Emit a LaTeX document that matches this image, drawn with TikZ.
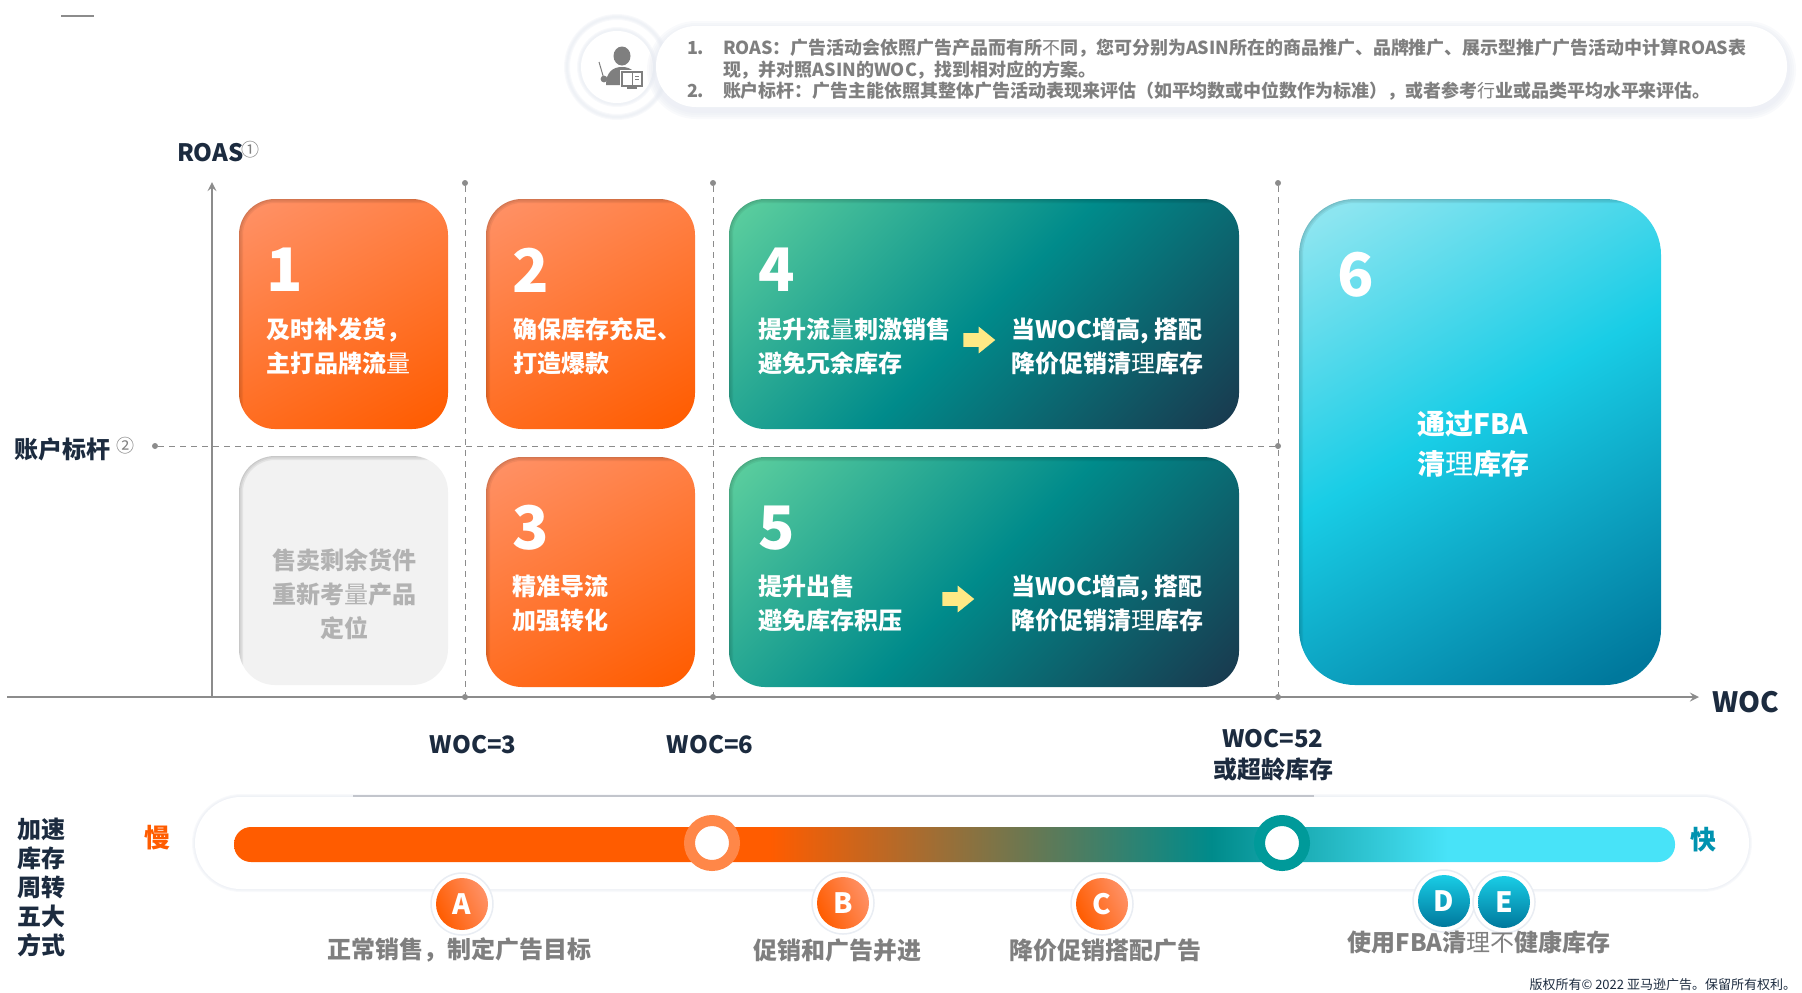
\documentclass[tikz,border=0pt]{standalone}
\usepackage{fontspec}
\setmainfont{Noto Sans CJK SC}
\usetikzlibrary{shapes.arrows}
\definecolor{navy}{HTML}{1C2B3F}
\definecolor{axisgray}{HTML}{8C8C8C}
\definecolor{txtgray}{HTML}{7F7F7F}
\definecolor{orlight}{HTML}{FF9166}
\definecolor{ordeep}{HTML}{FF5C00}
\definecolor{tealgreen}{HTML}{66D6A0}
\definecolor{tealmid}{HTML}{008B8B}
\definecolor{tealdark}{HTML}{1C3148}
\definecolor{cyanlight}{HTML}{8CE5F0}
\definecolor{cyanmid}{HTML}{19CDE6}
\definecolor{cyandark}{HTML}{00789C}
\definecolor{barcyan}{HTML}{48E3F8}
\definecolor{halo}{HTML}{E4E8F0}
\definecolor{ringorange}{HTML}{FF8748}
\definecolor{ringteal}{HTML}{009A9A}
\definecolor{arrowyellow}{HTML}{FFE985}
\pgfdeclarehorizontalshading{speedbar}{100bp}{color(0bp)=(ordeep); color(43.6bp)=(ordeep); color(58.9bp)=(tealmid); color(67.1bp)=(barcyan); color(100bp)=(barcyan)}
\pgfdeclareverticalshading{orangewash}{100bp}{color(0bp)=(ordeep); color(18bp)=(ordeep); color(82bp)=(orlight); color(100bp)=(orlight)}
\pgfdeclareverticalshading{tealwash}{100bp}{color(0bp)=(tealdark); color(12bp)=(tealdark); color(50bp)=(tealmid); color(88bp)=(tealgreen); color(100bp)=(tealgreen)}
\pgfdeclareverticalshading{cyanwash}{100bp}{color(0bp)=(cyandark); color(19bp)=(cyandark); color(53bp)=(cyanmid); color(81bp)=(cyanlight); color(100bp)=(cyanlight)}
\newcommand{\lightch}[1]{{\mdseries #1}}

\begin{document}
\begin{tikzpicture}[x=0.5pt, y=-0.5pt, every node/.style={inner sep=0pt, outer sep=0pt},
     box size/.style 2 args={minimum width=#1*0.5pt, minimum height=#2*0.5pt},
     txt/.style={font=\bfseries\fontsize{12}{17}\selectfont, align=left},
     notetxt/.style={txt, text=txtgray, font=\bfseries\fontsize{8.98}{11}\selectfont},
     cardtxt/.style={txt, text=white, anchor=west},
     bignum/.style={font=\bfseries\fontsize{30}{30}\selectfont, text=white, anchor=west},
     axlabel/.style={txt, text=navy, align=center},
     botlabel/.style={txt, text=txtgray, align=center},
     smallnum/.style={txt, text=txtgray, anchor=west, font=\mdseries\fontsize{9}{9}\selectfont},
     inset/.style={path picture={\foreach \w in {1,2.5,4} \draw[black, opacity=.06, line width=\w pt, rounded corners=#1] (path picture bounding box.south west) |- (path picture bounding box.north east);}},
     card/.style={rectangle, anchor=north west, rounded corners=18pt},
     orangecard/.style={card, box size={209}{230}, shading=orangewash, shading angle=28, inset=18pt},
     tealcard/.style={card, box size={510}{230}, shading=tealwash, shading angle=45, inset=18pt},
     dot/.style={circle, fill=axisgray, minimum size=3pt},
     axisline/.style={axisgray, line width=1pt, -stealth},
     guide/.style={axisgray, line width=0.5pt, dash pattern=on 3pt off 2.5pt},
     badge/.style={circle, minimum size=26pt, text=white, font=\bfseries\fontsize{14}{14}\selectfont},
     badgehalo/.style={circle, fill=white, draw=halo!80, line width=0.75pt, minimum size=31pt},
     ring/.style={circle, fill=white, minimum size=22.5pt, line width=5.5pt},
     yellowarrow/.style={single arrow, fill=arrowyellow, single arrow head extend=3.25pt, single arrow tip angle=78, inner ysep=3.25pt, inner xsep=0pt, minimum height=16pt}]

   \useasboundingbox (0,0) rectangle (1802,992);
   \draw[axisgray, line width=1pt] (61,16) -- (94,16);

   \foreach \w in {3,2,1} \draw[halo, opacity=.25, line width=\w pt] (617,67) circle (50) (617,67) circle (37);
   \node[circle, fill=white, minimum size=36pt] (iconinner) at (617,67) {};
   \foreach \w in {18,14,10,6} \draw[halo, opacity=.22, line width=\w*0.5pt, rounded corners=20pt] (656,30) rectangle (1787,110);
   \node[card, fill=white, rounded corners=20pt, box size={1131}{81}] (notebox) at (656,26) {};
   \fill[txtgray] (622,56) ellipse (8.5 and 9.5);
   \fill[txtgray] (606,85) .. controls (606,72) and (613,67) .. (622,67) .. controls (631,67) and (638,72) .. (638,85) -- cycle;
   \draw[txtgray, line width=0.5pt] (599,62) -- (604,79);
   \fill[txtgray] (604,79) circle (3.4);
   \fill[white] (620,70) rectangle (644,88);
   \draw[txtgray, line width=0.75pt] (622,72) rectangle (642,86);
   \draw[txtgray, line width=0.5pt] (632,72) -- (632,86);
   \draw[txtgray, line width=1pt] (627,88) -- (637,88);
   \draw[txtgray, line width=0.5pt] (635,76) -- (639,76) (635,79) -- (639,79);

   \node[notetxt, anchor=west] (numone) at (687,48) {1.};
   \node[notetxt, anchor=north west] (noteone) at (723,39) {ROAS：广告活动会依照广告产品而有所\lightch{不}同，您可分别为ASIN所在的商品推广、品牌推广、展示型推广广告活动中计算ROAS表\\现，并对照ASIN的WOC，找到相对应的方案。};
   \node[notetxt, anchor=west] (numtwo) at (687,91) {2.};
   \node[notetxt, anchor=west] (notetwo) at (723,91) {账户标杆：广告主能依照其整体广告活动表现来评估（如平均数或中位数作为标准），或者参考\lightch{行}业或品类平均水平来评估。};

   \node[dot] (leftdot) at (155,446) {};
   \node[dot] (rightdot) at (1278,446) {};
   \node[dot] (woctop) at (465,183) {};
   \node[dot] (wocbot) at (465,697) {};
   \node[dot] (sixtop) at (713,183) {};
   \node[dot] (sixbot) at (713,697) {};
   \node[dot] (bigtop) at (1278,183) {};
   \node[dot] (bigbot) at (1278,697) {};
   \draw[guide] (leftdot) -- (rightdot);
   \draw[guide] (woctop) -- (wocbot);
   \draw[guide] (sixtop) -- (sixbot);
   \draw[guide] (bigtop) -- (bigbot);
   \coordinate (xstart) at (7,697);
   \coordinate (xend) at (1699,697);
   \coordinate (ystart) at (212,697);
   \coordinate (yend) at (212,182);
   \draw[axisline] (xstart) -- (xend);
   \draw[axisline] (ystart) -- (yend);

   \node[orangecard] (cardone) at (239,199) {};
   \node[orangecard] (cardtwo) at (486,199) {};
   \node[orangecard] (cardthree) at (486,457) {};
   \node[card, box size={209}{229}, fill=black!5, inset=18pt] (cardgrey) at (239,456) {};
   \node[tealcard] (cardfour) at (729,199) {};
   \node[tealcard] (cardfive) at (729,457) {};
   \node[card, rounded corners=28pt, box size={362}{486}, shading=cyanwash, shading angle=30, inset=28pt] (cardsix) at (1299,199) {};

   \node[bignum] (numa) at (266,270) {1};
   \node[bignum] (numb) at (512,270) {2};
   \node[bignum] (numc) at (512,528) {3};
   \node[bignum] (numd) at (758,270) {4};
   \node[bignum] (nume) at (758,528) {5};
   \node[bignum] (numf) at (1337,275) {6};

   \node[cardtxt] (txtone) at (266,346) {及时补发货，\\主打品牌流\lightch{量}};
   \node[cardtxt] (txttwo) at (513,346) {确保库存充足、\\打造爆款};
   \node[cardtxt] (txtthree) at (512,603) {精准导流\\加强转化};
   \node[txt, text=black!30, align=center] (txtgrey) at (344,594) {售卖剩余货件\\重新考\lightch{量}产品\\定位};
   \node[cardtxt] (txtfour) at (758,346) {提升流\lightch{量}刺激销售\\避免冗余库存};
   \node[cardtxt] (txtfourb) at (1011,346) {当WOC增高, 搭配\\降价促销清\lightch{理}库存};
   \node[cardtxt] (txtfive) at (758,603) {提升出售\\避免库存积压};
   \node[cardtxt] (txtfiveb) at (1011,603) {当WOC增高, 搭配\\降价促销清\lightch{理}库存};
   \node[txt, text=white, align=center, font=\bfseries\fontsize{14}{20}\selectfont] (txtsix) at (1473,444) {通过FBA\\清\lightch{理}库存};
   \node[yellowarrow] (arrowfour) at (975,340) {};
   \node[yellowarrow] (arrowfive) at (954,599) {};

   \node[axlabel, anchor=west] (roas) at (177,153) {ROAS};
   \node[smallnum] (roasnum) at (241,150) {①};
   \node[axlabel, anchor=west] (account) at (14,449) {账户标杆};
   \node[smallnum] (accountnum) at (116,446) {②};
   \node[axlabel, anchor=west, font=\bfseries\fontsize{14}{14}\selectfont] (woc) at (1712,702) {WOC};
   \node[axlabel] (wocthree) at (473,745) {WOC=3};
   \node[axlabel] (wocsix) at (710,745) {WOC=6};
   \node[axlabel, font=\bfseries\fontsize{12}{15.5}\selectfont] (wocbig) at (1273,755) {WOC=52\\或超龄库存};

   \foreach \w in {6,4,2} \draw[halo, opacity=.25, line width=\w*0.5pt, rounded corners=23pt] (195,797) rectangle (1749,889);
   \node[card, fill=white, box size={1554}{92}, rounded corners=23pt] (barpanel) at (195,797) {};
   \coordinate (topleft) at (353,796);
   \coordinate (topright) at (1314,796);
   \draw[halo!85!black, line width=0.75pt] (topleft) -- (topright);
   \shade[shading=speedbar, rounded corners=8.5pt] (234,827) rectangle (1675,862);
   \node[ring, draw=ringorange] (ringone) at (712,843) {};
   \node[ring, draw=ringteal] (ringtwo) at (1282,843) {};

   \foreach \nm/\cx/\cy in {A/462/904,B/843/903,C/1102/904} {
     \node[badgehalo] (halo\nm) at (\cx,\cy) {};
     \node[badge, left color=ordeep, right color=orlight, shading angle=115] (badge\nm) at (\cx,\cy) {\nm};
   }
   \foreach \nm/\cx/\cy in {D/1444/901,E/1504/902} {
     \node[badgehalo] (halo\nm) at (\cx,\cy) {};
     \node[badge, top color=cyanmid, bottom color=cyandark] (badge\nm) at (\cx,\cy) {\nm};
   }

   \node[txt, text=navy, align=center, font=\bfseries\fontsize{12}{14.5}\selectfont] (speedup) at (42,887) {加速\\库存\\周转\\五大\\方式};
   \node[txt, text=ordeep, font=\bfseries\fontsize{13}{13}\selectfont] (slow) at (157,838) {慢};
   \node[txt, text=cyandark!80!cyan, font=\bfseries\fontsize{13}{13}\selectfont] (fast) at (1703,840) {快};
   \node[botlabel] (labela) at (459,950) {正常销售，制定广告目标};
   \node[botlabel] (labelb) at (837,950) {促销和广告并进};
   \node[botlabel] (labelc) at (1105,950) {降价促销搭配广告};
   \node[botlabel] (labeld) at (1479,942) {使用FBA清\lightch{理不}健康库存};
   \node[txt, text=navy, anchor=east, font=\mdseries\fontsize{6.5}{7}\selectfont] (copyright) at (1796,985) {版权所有© 2022 亚马逊广告。保留所有权利。};
\end{tikzpicture}
\end{document}
